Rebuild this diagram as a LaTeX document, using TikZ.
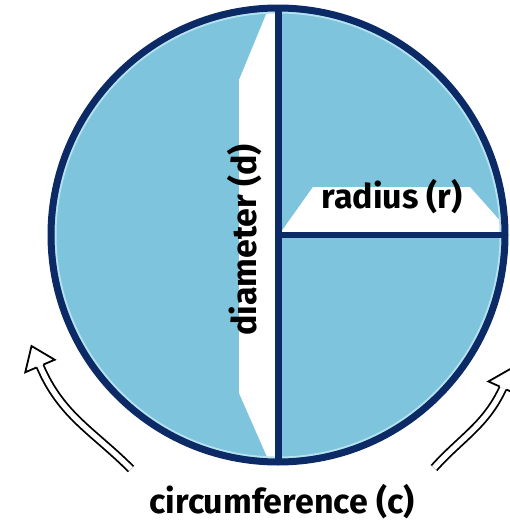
\documentclass[tikz,border=0pt]{standalone}
\usepackage{fontspec}
\setmainfont{Fira Sans}
\usetikzlibrary{calc}
\definecolor{disk}{HTML}{7EC4DD}
\definecolor{rim}{HTML}{0C2A66}
\definecolor{rimlight}{HTML}{B4E2F0}
\newcommand{\openhead}[2]{%
  \filldraw[headshape] ($(#1)!3.6pt!90:(#2)$) -- ($(#1)!16pt!90:(#2)$) -- (#2)
    -- ($(#1)!16pt!-90:(#2)$) -- ($(#1)!3.6pt!-90:(#2)$);}
\begin{document}
\begin{tikzpicture}[x=1pt,y=-1pt,
  lbl/.style={font=\bfseries\fontsize{34}{34}\selectfont, text=black, inner sep=0pt},
  rimline/.style={draw=rim, line width=7pt},
  dblshaft/.style={draw=black, double=white, double distance=5.4pt, line width=1.8pt},
  headshape/.style={draw=black, fill=white, line width=1.8pt, line join=miter}]
\useasboundingbox (0,0) rectangle (510,525);
\coordinate (O) at (278,235);
\coordinate (T) at (278,8);
\coordinate (B) at (278,462);
\coordinate (R) at (505,235);
\fill[disk] (O) circle (227);
\begin{scope}
  \clip (O) circle (227);
  \fill[white] (272,0) -- (239,80) -- (239,393) -- (275,475) -- (280,475) -- (280,0) -- cycle;
  \fill[white] (281,232) -- (313,187) -- (470,187) -- (510,232) -- cycle;
\end{scope}
\draw[rimlight, line width=2pt] (O) circle (222.5);
\draw[rimline] (O) circle (227);
\draw[rimline] (T) -- (B);
\draw[rimline, line width=6.5pt] (O) -- (R);
\node[lbl, anchor=base] (rad) at (392,208) {radius (r)};
\node[lbl, rotate=90, anchor=base] (dia) at (256,240) {diameter (d)};
\node[lbl, anchor=base] (circ) at (282,513) {circumference (c)};
% left arrow
\coordinate (la1) at (131,469);
\coordinate (la2) at (40,366);
\coordinate (lat) at (31.5,346);
\draw[dblshaft] (la1) to[out=135, in=-67] (la2);
\openhead{la2}{lat}
% right arrow
\coordinate (ra1) at (434,468);
\coordinate (ra2) at (503,388);
\coordinate (rat) at (512,368);
\draw[dblshaft] (ra1) to[out=48, in=245] (ra2);
\openhead{ra2}{rat}
\end{tikzpicture}
\end{document}
